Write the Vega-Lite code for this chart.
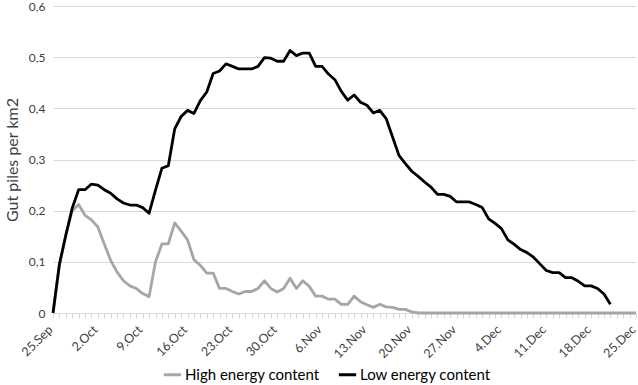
{
  "$schema": "https://vega.github.io/schema/vega-lite/v6.json",
  "autosize": {"type": "none"},
  "width": 583,
  "height": 307,
  "padding": {"left": 53, "top": 6, "right": 2, "bottom": 72},
  "background": "white",
  "config": {
    "view": {"stroke": null},
    "font": "Lato",
    "axis": {"labelFont": "Lato", "titleFont": "Lato", "labelColor": "#404040", "titleColor": "#404040"},
    "legend": {"labelFont": "Lato"}
  },
  "data": {
    "values": [
      {"date": "2023-09-25", "High energy content": 0, "Low energy content": 0},
      {"date": "2023-09-26", "High energy content": 0.095, "Low energy content": 0.095},
      {"date": "2023-09-27", "High energy content": 0.152, "Low energy content": 0.152},
      {"date": "2023-09-28", "High energy content": 0.2, "Low energy content": 0.205},
      {"date": "2023-09-29", "High energy content": 0.212, "Low energy content": 0.241},
      {"date": "2023-09-30", "High energy content": 0.191, "Low energy content": 0.241},
      {"date": "2023-10-01", "High energy content": 0.182, "Low energy content": 0.252},
      {"date": "2023-10-02", "High energy content": 0.168, "Low energy content": 0.25},
      {"date": "2023-10-03", "High energy content": 0.135, "Low energy content": 0.241},
      {"date": "2023-10-04", "High energy content": 0.103, "Low energy content": 0.234},
      {"date": "2023-10-05", "High energy content": 0.08, "Low energy content": 0.223},
      {"date": "2023-10-06", "High energy content": 0.063, "Low energy content": 0.215},
      {"date": "2023-10-07", "High energy content": 0.053, "Low energy content": 0.211},
      {"date": "2023-10-08", "High energy content": 0.048, "Low energy content": 0.211},
      {"date": "2023-10-09", "High energy content": 0.038, "Low energy content": 0.206},
      {"date": "2023-10-10", "High energy content": 0.032, "Low energy content": 0.195},
      {"date": "2023-10-11", "High energy content": 0.1, "Low energy content": 0.24},
      {"date": "2023-10-12", "High energy content": 0.135, "Low energy content": 0.283},
      {"date": "2023-10-13", "High energy content": 0.135, "Low energy content": 0.288},
      {"date": "2023-10-14", "High energy content": 0.176, "Low energy content": 0.36},
      {"date": "2023-10-15", "High energy content": 0.16, "Low energy content": 0.384},
      {"date": "2023-10-16", "High energy content": 0.143, "Low energy content": 0.396},
      {"date": "2023-10-17", "High energy content": 0.104, "Low energy content": 0.39},
      {"date": "2023-10-18", "High energy content": 0.093, "Low energy content": 0.415},
      {"date": "2023-10-19", "High energy content": 0.078, "Low energy content": 0.432},
      {"date": "2023-10-20", "High energy content": 0.078, "Low energy content": 0.468},
      {"date": "2023-10-21", "High energy content": 0.048, "Low energy content": 0.473},
      {"date": "2023-10-22", "High energy content": 0.048, "Low energy content": 0.487},
      {"date": "2023-10-23", "High energy content": 0.042, "Low energy content": 0.482},
      {"date": "2023-10-24", "High energy content": 0.037, "Low energy content": 0.477},
      {"date": "2023-10-25", "High energy content": 0.042, "Low energy content": 0.477},
      {"date": "2023-10-26", "High energy content": 0.042, "Low energy content": 0.477},
      {"date": "2023-10-27", "High energy content": 0.048, "Low energy content": 0.482},
      {"date": "2023-10-28", "High energy content": 0.063, "Low energy content": 0.499},
      {"date": "2023-10-29", "High energy content": 0.048, "Low energy content": 0.498},
      {"date": "2023-10-30", "High energy content": 0.041, "Low energy content": 0.492},
      {"date": "2023-10-31", "High energy content": 0.048, "Low energy content": 0.492},
      {"date": "2023-11-01", "High energy content": 0.068, "Low energy content": 0.513},
      {"date": "2023-11-02", "High energy content": 0.048, "Low energy content": 0.503},
      {"date": "2023-11-03", "High energy content": 0.063, "Low energy content": 0.508},
      {"date": "2023-11-04", "High energy content": 0.052, "Low energy content": 0.508},
      {"date": "2023-11-05", "High energy content": 0.033, "Low energy content": 0.482},
      {"date": "2023-11-06", "High energy content": 0.033, "Low energy content": 0.482},
      {"date": "2023-11-07", "High energy content": 0.027, "Low energy content": 0.467},
      {"date": "2023-11-08", "High energy content": 0.027, "Low energy content": 0.456},
      {"date": "2023-11-09", "High energy content": 0.017, "Low energy content": 0.433},
      {"date": "2023-11-10", "High energy content": 0.017, "Low energy content": 0.416},
      {"date": "2023-11-11", "High energy content": 0.033, "Low energy content": 0.426},
      {"date": "2023-11-12", "High energy content": 0.022, "Low energy content": 0.412},
      {"date": "2023-11-13", "High energy content": 0.016, "Low energy content": 0.406},
      {"date": "2023-11-14", "High energy content": 0.011, "Low energy content": 0.391},
      {"date": "2023-11-15", "High energy content": 0.017, "Low energy content": 0.396},
      {"date": "2023-11-16", "High energy content": 0.012, "Low energy content": 0.38},
      {"date": "2023-11-17", "High energy content": 0.011, "Low energy content": 0.344},
      {"date": "2023-11-18", "High energy content": 0.007, "Low energy content": 0.308},
      {"date": "2023-11-19", "High energy content": 0.007, "Low energy content": 0.292},
      {"date": "2023-11-20", "High energy content": 0.002, "Low energy content": 0.277},
      {"date": "2023-11-21", "High energy content": 0, "Low energy content": 0.267},
      {"date": "2023-11-22", "High energy content": 0, "Low energy content": 0.256},
      {"date": "2023-11-23", "High energy content": 0, "Low energy content": 0.246},
      {"date": "2023-11-24", "High energy content": 0, "Low energy content": 0.232},
      {"date": "2023-11-25", "High energy content": 0, "Low energy content": 0.232},
      {"date": "2023-11-26", "High energy content": 0, "Low energy content": 0.228},
      {"date": "2023-11-27", "High energy content": 0, "Low energy content": 0.217},
      {"date": "2023-11-28", "High energy content": 0, "Low energy content": 0.217},
      {"date": "2023-11-29", "High energy content": 0, "Low energy content": 0.217},
      {"date": "2023-11-30", "High energy content": 0, "Low energy content": 0.212},
      {"date": "2023-12-01", "High energy content": 0, "Low energy content": 0.206},
      {"date": "2023-12-02", "High energy content": 0, "Low energy content": 0.184},
      {"date": "2023-12-03", "High energy content": 0, "Low energy content": 0.175},
      {"date": "2023-12-04", "High energy content": 0, "Low energy content": 0.165},
      {"date": "2023-12-05", "High energy content": 0, "Low energy content": 0.143},
      {"date": "2023-12-06", "High energy content": 0, "Low energy content": 0.134},
      {"date": "2023-12-07", "High energy content": 0, "Low energy content": 0.124},
      {"date": "2023-12-08", "High energy content": 0, "Low energy content": 0.118},
      {"date": "2023-12-09", "High energy content": 0, "Low energy content": 0.109},
      {"date": "2023-12-10", "High energy content": 0, "Low energy content": 0.096},
      {"date": "2023-12-11", "High energy content": 0, "Low energy content": 0.083},
      {"date": "2023-12-12", "High energy content": 0, "Low energy content": 0.079},
      {"date": "2023-12-13", "High energy content": 0, "Low energy content": 0.079},
      {"date": "2023-12-14", "High energy content": 0, "Low energy content": 0.069},
      {"date": "2023-12-15", "High energy content": 0, "Low energy content": 0.069},
      {"date": "2023-12-16", "High energy content": 0, "Low energy content": 0.062},
      {"date": "2023-12-17", "High energy content": 0, "Low energy content": 0.053},
      {"date": "2023-12-18", "High energy content": 0, "Low energy content": 0.053},
      {"date": "2023-12-19", "High energy content": 0, "Low energy content": 0.048},
      {"date": "2023-12-20", "High energy content": 0, "Low energy content": 0.037},
      {"date": "2023-12-21", "High energy content": 0, "Low energy content": 0.017},
      {"date": "2023-12-22", "High energy content": 0, "Low energy content": null},
      {"date": "2023-12-23", "High energy content": 0, "Low energy content": null},
      {"date": "2023-12-24", "High energy content": 0, "Low energy content": null},
      {"date": "2023-12-25", "High energy content": 0, "Low energy content": null}
    ]
  },
  "transform": [
    {"fold": ["High energy content", "Low energy content"], "as": ["series", "value"]},
    {"filter": "isValid(datum.value)"}
  ],
  "mark": {"type": "line", "strokeWidth": 2.8, "strokeJoin": "round"},
  "encoding": {
    "x": {
      "field": "date",
      "type": "temporal",
      "scale": {
        "type": "utc",
        "domain": [
          {"year": 2023, "month": 9, "date": 25, "utc": true},
          {"year": 2023, "month": 12, "date": 25, "utc": true}
        ],
        "nice": false
      },
      "axis": {
        "title": null,
        "grid": false,
        "tickCount": {"interval": "day", "step": 1},
        "labelExpr": "round((datum.value - 1695600000000) / 86400000) % 7 == 0 ? utcFormat(datum.value, '%-d.%b') : ''",
        "labelAngle": -45,
        "labelAlign": "right",
        "labelBaseline": "alphabetic",
        "labelOverlap": false,
        "labelBound": false,
        "labelFlush": false,
        "labelFontSize": 12.5,
        "labelPadding": 12,
        "domainColor": "#d9d9d9",
        "domainWidth": 1,
        "tickColor": "#d9d9d9",
        "tickSize": 5
      }
    },
    "y": {
      "field": "value",
      "type": "quantitative",
      "scale": {"domain": [0, 0.6], "nice": false},
      "axis": {
        "title": "Gut piles per km2",
        "titleFontSize": 16,
        "titleFontWeight": "normal",
        "titlePadding": 8,
        "values": [0, 0.1, 0.2, 0.3, 0.4, 0.5, 0.6],
        "labelExpr": "datum.value == 0 ? '0' : replace(format(datum.value, '.1f'), '.', ',')",
        "labelFontSize": 12,
        "labelPadding": 8,
        "domain": false,
        "ticks": false,
        "gridColor": "#d9d9d9",
        "gridWidth": 1
      }
    },
    "color": {
      "field": "series",
      "type": "nominal",
      "scale": {"domain": ["High energy content", "Low energy content"], "range": ["#a6a6a6", "#000000"]},
      "legend": {
        "title": null,
        "orient": "none",
        "direction": "horizontal",
        "legendX": 109,
        "legendY": 358,
        "symbolType": "stroke",
        "symbolSize": 300,
        "symbolStrokeWidth": 3,
        "labelFontSize": 15,
        "labelColor": "#000000",
        "columnPadding": 12,
        "labelOffset": 2
      }
    }
  }
}
